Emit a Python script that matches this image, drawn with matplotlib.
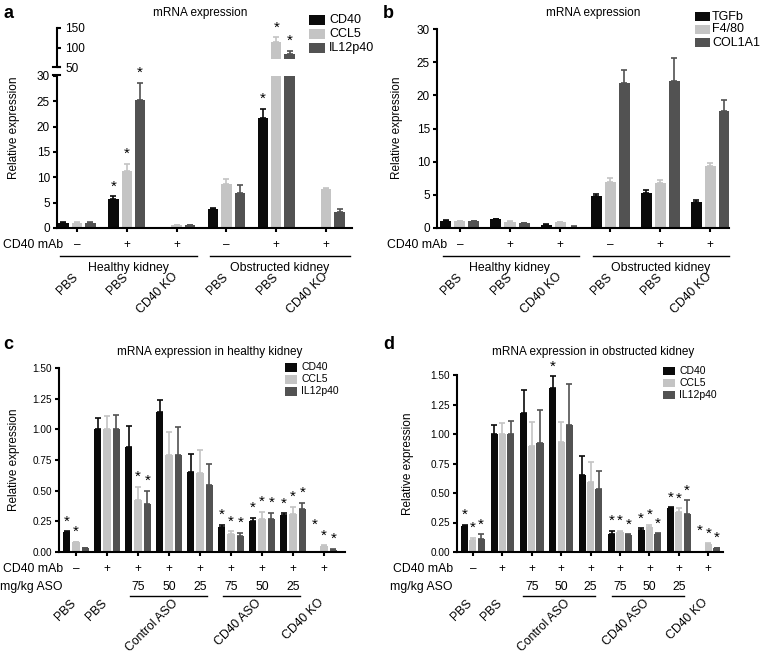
import numpy as np
import matplotlib
matplotlib.use("Agg")
import matplotlib.pyplot as plt
import matplotlib.transforms as mtrans
from matplotlib.patches import Rectangle
from matplotlib.lines import Line2D

plt.rcParams['font.family'] = ['Liberation Sans', 'DejaVu Sans']

W, H = 760, 654
colors = ['#0a0a0a', '#c4c4c4', '#525252']

# ---- panel a : inflammatory markers
a_series = ['CD40', 'CCL5', 'IL12p40']
a_mab = ['–', '+', '+', '–', '+', '+']
a_groups = ['PBS', 'PBS', 'CD40 KO', 'PBS', 'PBS', 'CD40 KO']
a_cd40 = [1.0, 5.8, 0.0, 3.7, 21.7, 0.0]
a_cd40_err = [0.1, 0.5, 0.0, 0.15, 1.8, 0.0]
a_ccl5 = [1.0, 11.2, 0.5, 8.6, 114.0, 7.7]
a_ccl5_err = [0.1, 1.5, 0.05, 1.1, 12.0, 0.1]
a_il12 = [1.0, 25.2, 0.5, 6.9, 83.0, 3.2]
a_il12_err = [0.1, 3.5, 0.1, 1.5, 8.0, 0.5]
a_stars = [(1, 0), (1, 1), (1, 2), (4, 0), (4, 1), (4, 2)]

# ---- panel b : fibrosis markers
b_series = ['TGFb', 'F4/80', 'COL1A1']
b_tgfb = [1.1, 1.3, 0.5, 4.8, 5.3, 3.9]
b_tgfb_err = [0.05, 0.05, 0.05, 0.3, 0.4, 0.3]
b_f480 = [1.05, 0.9, 0.9, 7.0, 6.8, 9.4]
b_f480_err = [0.05, 0.15, 0.05, 0.6, 0.5, 0.4]
b_col = [1.0, 0.7, 0.2, 21.8, 22.1, 17.7]
b_col_err = [0.1, 0.05, 0.05, 2.0, 3.6, 1.6]

# ---- panels c/d : ASO dose groups
cd_mab = ['–', '+', '+', '+', '+', '+', '+', '+', '+']
cd_dose = ['', '', '75', '50', '25', '75', '50', '25', '']
cd_labels = ['PBS', 'PBS', 'Control ASO', 'CD40 ASO', 'CD40 KO']
cd_label_pos = [0, 1, 3.3, 6, 8]

c_cd40 = [0.16, 1.0, 0.86, 1.14, 0.65, 0.20, 0.25, 0.30, 0.0]
c_cd40_err = [0.01, 0.09, 0.17, 0.10, 0.15, 0.02, 0.03, 0.015, 0.0]
c_ccl5 = [0.08, 1.0, 0.42, 0.79, 0.64, 0.15, 0.27, 0.31, 0.05]
c_ccl5_err = [0.005, 0.11, 0.11, 0.19, 0.19, 0.02, 0.06, 0.06, 0.005]
c_il12 = [0.03, 1.0, 0.39, 0.79, 0.55, 0.13, 0.27, 0.35, 0.02]
c_il12_err = [0.005, 0.12, 0.11, 0.23, 0.17, 0.025, 0.05, 0.05, 0.005]
c_stars = [(0, 0), (0, 1), (2, 1), (2, 2), (5, 0), (5, 1), (5, 2), (6, 0), (6, 1), (6, 2),
           (7, 0), (7, 1), (7, 2), (8, 0), (8, 1), (8, 2)]

d_cd40 = [0.22, 1.0, 1.18, 1.39, 0.65, 0.15, 0.19, 0.37, 0.0]
d_cd40_err = [0.01, 0.08, 0.19, 0.10, 0.16, 0.03, 0.01, 0.01, 0.0]
d_ccl5 = [0.10, 1.0, 0.90, 0.93, 0.59, 0.17, 0.21, 0.34, 0.07]
d_ccl5_err = [0.02, 0.09, 0.20, 0.17, 0.17, 0.01, 0.02, 0.03, 0.003]
d_il12 = [0.11, 1.0, 0.92, 1.08, 0.53, 0.14, 0.15, 0.32, 0.03]
d_il12_err = [0.04, 0.11, 0.28, 0.34, 0.16, 0.01, 0.01, 0.12, 0.005]
d_stars = [(0, 0), (0, 1), (0, 2), (3, 0), (5, 0), (5, 1), (5, 2), (6, 0), (6, 1), (6, 2),
           (7, 0), (7, 1), (7, 2), (8, 0), (8, 1), (8, 2)]


def box(l, t, r, b):
    return [l / W, 1 - b / H, (r - l) / W, (b - t) / H]


def style(ax, fs, bottom=True):
    for s in ['top', 'right']:
        ax.spines[s].set_visible(False)
    ax.spines['left'].set_linewidth(1.5)
    ax.spines['bottom'].set_linewidth(1.5)
    if not bottom:
        ax.spines['bottom'].set_visible(False)
    ax.tick_params(direction='out', length=3, width=1.5, labelsize=fs, pad=2)
    ax.tick_params(axis='x', labelbottom=False, bottom=bottom)


def bars(ax, vals, errs, width, offset, base=0.0):
    n = len(vals[0])
    for s in range(3):
        x = np.arange(n) + (s - 1) * offset
        v = np.array(vals[s])
        e = np.array(errs[s])
        mb = v > base
        ax.bar(x[mb], v[mb] - base, width, bottom=base, color=colors[s], linewidth=0)
        m = (e > 0) & (v + e > base)
        ax.errorbar(x[m], v[m], yerr=[np.zeros(m.sum()), e[m]], fmt='none',
                    ecolor=colors[s], elinewidth=1.2, capsize=2.2, capthick=1.2)


def stars(ax, vals, errs, offset, which, kmin=0.0, lim=None):
    for g, s in which:
        top = vals[s][g] + errs[s][g]
        if lim is not None and not (lim[0] <= top <= lim[1]):
            continue
        if top <= 0:
            top = kmin
        ax.annotate('*', xy=(g + (s - 1) * offset, top), xytext=(0, 2),
                    textcoords='offset points', ha='center', va='bottom', fontsize=11)


def legend(labels, x, y, w, h, pitch, fs, gap=4):
    for i, lab in enumerate(labels):
        yy = y + i * pitch
        fig.add_artist(Rectangle((x / W, 1 - (yy + h) / H), w / W, h / H,
                                 transform=fig.transFigure, color=colors[i], lw=0))
        fig.text((x + w + gap) / W, 1 - (yy + h / 2) / H, lab, fontsize=fs,
                 ha='left', va='center')


def hline(x0, x1, y, lw=1.0):
    fig.add_artist(Line2D([x0 / W, x1 / W], [1 - y / H] * 2, color='k', lw=lw))


def row(ax, labels, ypx, fs):
    tr = mtrans.blended_transform_factory(ax.transData, fig.transFigure)
    for i, l in enumerate(labels):
        fig.text(i, 1 - ypx / H, l, transform=tr, ha='center', va='center', fontsize=fs)


def rotlabels(ax, pos, labels, ypx, fs, dx=4):
    tr = mtrans.blended_transform_factory(ax.transData, fig.transFigure)
    tr = mtrans.offset_copy(tr, fig=fig, x=dx, y=0, units='dots')
    for p, l in zip(pos, labels):
        fig.text(p, 1 - ypx / H, l, transform=tr, rotation=45, ha='right', va='top',
                 fontsize=fs)


fig = plt.figure(figsize=(7.6, 6.54), dpi=100)

# ================= a
a_vals = [a_cd40, a_ccl5, a_il12]
a_errs = [a_cd40_err, a_ccl5_err, a_il12_err]
axa = fig.add_axes(box(57, 76, 352, 228))
axa_up = fig.add_axes(box(57, 28, 352, 67))
bars(axa, a_vals, a_errs, 0.21, 0.27)
bars(axa_up, a_vals, a_errs, 0.21, 0.27, base=70)
for ax in (axa, axa_up):
    ax.set_xlim(-0.4, 5.52)
axa.set_ylim(0, 30)
axa.set_yticks([0, 5, 10, 15, 20, 25, 30])
axa_up.set_ylim(50, 150)
axa_up.set_yticks([50, 100, 150])
style(axa, 8.5)
style(axa_up, 8.5, bottom=False)
# broken upper scale: spine on the left edge, labels to its right
axa_up.spines['left'].set_visible(False)
axa_up.spines['right'].set_visible(True)
axa_up.spines['right'].set_linewidth(1.5)
axa_up.spines['right'].set_position(('axes', 0))
axa_up.yaxis.tick_right()
axa_up.tick_params(axis='y', direction='out', length=3, width=1.5, labelsize=8.5, pad=3)
hline(53, 60, 67, lw=1.5)
hline(53, 60, 74.5, lw=1.5)
axa.set_xticks(range(6))
stars(axa, a_vals, a_errs, 0.27, a_stars, lim=(0, 30))
stars(axa_up, a_vals, a_errs, 0.27, a_stars, lim=(50, 150))
fig.text(14 / W, 1 - 128 / H, 'Relative expression', rotation=90, ha='center',
         va='center', fontsize=8.5)
fig.text(200 / W, 1 - 13 / H, 'mRNA expression', ha='center', va='center', fontsize=8.5)
fig.text(3 / W, 1 - 14 / H, 'a', fontsize=13, fontweight='bold', ha='left', va='center')
legend(a_series, 309, 15, 16, 10, 14, 9)
fig.text(63 / W, 1 - 245 / H, 'CD40 mAb', ha='right', va='center', fontsize=8.8)
row(axa, a_mab, 245, 8.5)
hline(60, 197, 256)
hline(210, 350, 256)
fig.text(128 / W, 1 - 268 / H, 'Healthy kidney', ha='center', va='center', fontsize=8.8)
fig.text(280 / W, 1 - 268 / H, 'Obstructed kidney', ha='center', va='center', fontsize=8.8)
rotlabels(axa, range(6), a_groups, 271, 8.8)

# ================= b
b_vals = [b_tgfb, b_f480, b_col]
b_errs = [b_tgfb_err, b_f480_err, b_col_err]
axb = fig.add_axes(box(437, 29, 729, 228))
bars(axb, b_vals, b_errs, 0.22, 0.28)
axb.set_xlim(-0.46, 5.38)
axb.set_ylim(0, 30)
axb.set_yticks([0, 5, 10, 15, 20, 25, 30])
style(axb, 8.5)
axb.set_xticks(range(6))
fig.text(397 / W, 1 - 128 / H, 'Relative expression', rotation=90, ha='center',
         va='center', fontsize=8.5)
fig.text(593 / W, 1 - 13 / H, 'mRNA expression', ha='center', va='center', fontsize=8.5)
fig.text(383 / W, 1 - 14 / H, 'b', fontsize=13, fontweight='bold', ha='left', va='center')
legend(b_series, 695, 12, 15, 9, 13, 9, gap=2)
fig.text(447 / W, 1 - 245 / H, 'CD40 mAb', ha='right', va='center', fontsize=8.8)
row(axb, a_mab, 245, 8.5)
hline(443, 579, 256)
hline(593, 729, 256)
fig.text(509 / W, 1 - 268 / H, 'Healthy kidney', ha='center', va='center', fontsize=8.8)
fig.text(661 / W, 1 - 268 / H, 'Obstructed kidney', ha='center', va='center', fontsize=8.8)
rotlabels(axb, range(6), a_groups, 271, 8.8)

# ================= c
c_vals = [c_cd40, c_ccl5, c_il12]
c_errs = [c_cd40_err, c_ccl5_err, c_il12_err]
axc = fig.add_axes(box(59, 368, 345, 552))
bars(axc, c_vals, c_errs, 0.24, 0.3)
axc.set_xlim(-0.55, 8.68)
axc.set_ylim(0, 1.5)
axc.set_yticks(np.arange(0, 1.51, 0.25))
axc.yaxis.set_major_formatter('{x:.2f}')
style(axc, 7.2)
axc.set_xticks(range(9))
stars(axc, c_vals, c_errs, 0.3, c_stars, kmin=0.14)
fig.text(14 / W, 1 - 460 / H, 'Relative expression', rotation=90, ha='center',
         va='center', fontsize=8.5)
fig.text(210 / W, 1 - 352 / H, 'mRNA expression in healthy kidney', ha='center',
         va='center', fontsize=8.5)
fig.text(3 / W, 1 - 345 / H, 'c', fontsize=13, fontweight='bold', ha='left', va='center')
legend(a_series, 285, 363, 12, 9, 12, 7.5)
fig.text(63 / W, 1 - 569 / H, 'CD40 mAb', ha='right', va='center', fontsize=8.8)
fig.text(63 / W, 1 - 587 / H, 'mg/kg ASO', ha='right', va='center', fontsize=8.8)
row(axc, cd_mab, 569, 8.5)
row(axc, cd_dose, 587, 8.8)
hline(130, 207, 596)
hline(223, 300, 596)
rotlabels(axc, cd_label_pos, cd_labels, 597, 8.8, dx=2)

# ================= d
d_vals = [d_cd40, d_ccl5, d_il12]
d_errs = [d_cd40_err, d_ccl5_err, d_il12_err]
axd = fig.add_axes(box(457, 375, 723, 552))
bars(axd, d_vals, d_errs, 0.24, 0.28)
axd.set_xlim(-0.54, 8.5)
axd.set_ylim(0, 1.5)
axd.set_yticks(np.arange(0, 1.51, 0.25))
axd.yaxis.set_major_formatter('{x:.2f}')
style(axd, 7.2)
axd.set_xticks(range(9))
stars(axd, d_vals, d_errs, 0.28, d_stars, kmin=0.1)
fig.text(408 / W, 1 - 464 / H, 'Relative expression', rotation=90, ha='center',
         va='center', fontsize=8.5)
fig.text(593 / W, 1 - 352 / H, 'mRNA expression in obstructed kidney', ha='center',
         va='center', fontsize=8.5)
fig.text(383 / W, 1 - 345 / H, 'd', fontsize=13, fontweight='bold', ha='left', va='center')
legend(a_series, 663, 367, 12, 8, 12, 7.5)
fig.text(453 / W, 1 - 569 / H, 'CD40 mAb', ha='right', va='center', fontsize=8.8)
fig.text(453 / W, 1 - 587 / H, 'mg/kg ASO', ha='right', va='center', fontsize=8.8)
row(axd, cd_mab, 569, 8.5)
row(axd, cd_dose, 587, 8.8)
hline(523, 595, 596)
hline(612, 684, 596)
rotlabels(axd, cd_label_pos, cd_labels, 597, 8.8, dx=2)

fig.savefig('out.png', dpi=100)
